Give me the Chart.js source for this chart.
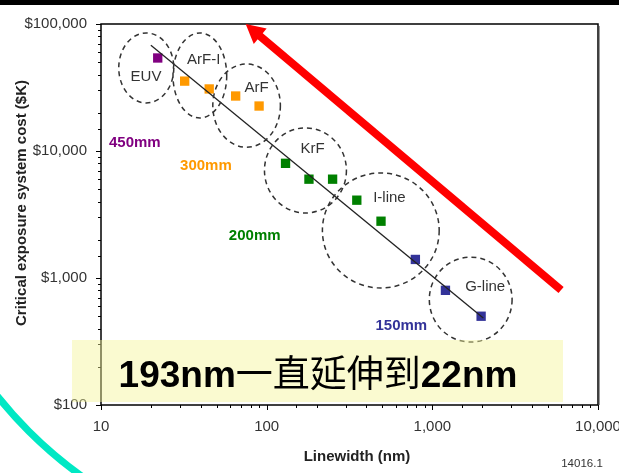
<!DOCTYPE html>
<html>
<head>
<meta charset="utf-8">
<script src="https://cdn.jsdelivr.net/npm/chart.js@4/dist/chart.umd.min.js"></script>
<style>
html,body{margin:0;padding:0;background:#fff;}
#wrap{width:619px;height:473px;position:relative;}
</style>
</head>
<body>
<div id="wrap"><canvas id="c" width="619" height="473"></canvas></div>
<script>
// ---- data ----
const euvX = [22];
const euvY = [54000];
const arfX = [32, 45, 65, 90];
const arfY = [35500, 30800, 27100, 22600];
const krfX = [130, 180, 250, 350, 490];
const krfY = [8000, 6000, 6000, 4100, 2800];
const glineX = [790, 1200, 1970];
const glineY = [1400, 800, 500];
const trendX = [20, 2030];
const trendY = [68000, 485];

const xTickValues = [10, 100, 1000, 10000];
const xTickLabels = ['10', '100', '1,000', '10,000'];
const yTickValues = [100, 1000, 10000, 100000];
const yTickLabels = ['$100', '$1,000', '$10,000', '$100,000'];

// technology groups (dashed ellipses) in data units
const techNames = ['EUV', 'ArF-I', 'ArF', 'KrF', 'I-line', 'G-line'];
const techXMin = [12.8, 27.2, 47.3, 97, 217, 959];
const techXMax = [27.5, 57.4, 121, 303, 1100, 3030];
const techYMin = [23900, 18200, 10700, 3250, 834, 313];
const techYMax = [85000, 85000, 48400, 15200, 6710, 1460];
const techLabelX = [18.7, 41.7, 87, 189, 551, 2085];
const techLabelY = [38300, 52100, 31300, 10400, 4270, 849];

// wafer size labels
const waferNames = ['450mm', '300mm', '200mm', '150mm'];
const waferX = [16, 43, 84.7, 650];
const waferY = [11560, 7620, 2140, 419];

// red trend arrow (data units)
const arrowFromX = 5985, arrowFromY = 805;
const arrowToX = 74.7, arrowToY = 100000;

const FONT = "'Liberation Sans', Arial, sans-serif";
const COL_PURPLE = '#800080', COL_ORANGE = '#ff9900', COL_GREEN = '#008000', COL_BLUE = '#333399';

const toXY = (xs, ys) => xs.map((x, i) => ({x: x, y: ys[i]}));
const isMajor = v => Math.abs(Math.log10(v) - Math.round(Math.log10(v))) < 1e-9;

const deco = {
  id: 'deco',
  beforeDraw(chart) {
    const ctx = chart.ctx;
    ctx.save();
    ctx.fillStyle = '#fff';
    ctx.fillRect(0, 0, chart.width, chart.height);
    ctx.restore();
  },
  afterDraw(chart) {
    const ctx = chart.ctx, a = chart.chartArea;
    const xs = chart.scales.x, ys = chart.scales.y;
    const X = v => xs.getPixelForValue(v), Y = v => ys.getPixelForValue(v);
    ctx.save();

    // tick marks
    ctx.strokeStyle = '#000';
    ctx.lineWidth = 1;
    xs.ticks.forEach(t => {
      const p = Math.round(X(t.value)) + 0.5;
      ctx.beginPath(); ctx.moveTo(p, a.bottom); ctx.lineTo(p, a.bottom + (isMajor(t.value) ? 5 : 3)); ctx.stroke();
    });
    ys.ticks.forEach(t => {
      const p = Math.round(Y(t.value)) + 0.5;
      ctx.beginPath(); ctx.moveTo(a.left, p); ctx.lineTo(a.left - (isMajor(t.value) ? 5 : 3), p); ctx.stroke();
    });

    // plot frame with light shadow
    ctx.strokeStyle = '#999';
    ctx.lineWidth = 1;
    ctx.beginPath(); ctx.moveTo(a.right + 1.5, a.top + 2); ctx.lineTo(a.right + 1.5, a.bottom); ctx.stroke();
    ctx.strokeStyle = '#000';
    ctx.lineWidth = 1.5;
    ctx.strokeRect(a.left, a.top, a.right - a.left, a.bottom - a.top);

    // dashed ellipses + tech labels
    ctx.strokeStyle = '#333';
    ctx.lineWidth = 1.5;
    ctx.setLineDash([5, 4]);
    techNames.forEach((n, i) => {
      const x0 = X(techXMin[i]), x1 = X(techXMax[i]);
      const y0 = Y(techYMax[i]), y1 = Y(techYMin[i]);
      ctx.beginPath();
      ctx.ellipse((x0 + x1) / 2, (y0 + y1) / 2, (x1 - x0) / 2, (y1 - y0) / 2, 0, 0, Math.PI * 2);
      ctx.stroke();
    });
    ctx.setLineDash([]);
    ctx.fillStyle = '#333';
    ctx.font = '15px ' + FONT;
    ctx.textAlign = 'center';
    ctx.textBaseline = 'middle';
    techNames.forEach((n, i) => ctx.fillText(n, X(techLabelX[i]), Y(techLabelY[i])));

    // wafer size labels
    const wcol = [COL_PURPLE, COL_ORANGE, COL_GREEN, COL_BLUE];
    ctx.font = 'bold 15px ' + FONT;
    waferNames.forEach((n, i) => { ctx.fillStyle = wcol[i]; ctx.fillText(n, X(waferX[i]), Y(waferY[i])); });

    // red arrow
    const fx = X(arrowFromX), fy = Y(arrowFromY), tx = X(arrowToX), ty = Y(arrowToY);
    const dx = tx - fx, dy = ty - fy, L = Math.hypot(dx, dy), ux = dx / L, uy = dy / L;
    const headLen = 19, headHalf = 10;
    const bx = tx - ux * headLen, by = ty - uy * headLen;
    ctx.strokeStyle = '#ff0000';
    ctx.lineWidth = 8;
    ctx.lineCap = 'butt';
    ctx.beginPath(); ctx.moveTo(fx, fy); ctx.lineTo(bx + ux * 2, by + uy * 2); ctx.stroke();
    ctx.fillStyle = '#ff0000';
    ctx.beginPath();
    ctx.moveTo(tx, ty);
    ctx.lineTo(bx - uy * headHalf, by + ux * headHalf);
    ctx.lineTo(bx + uy * headHalf, by - ux * headHalf);
    ctx.closePath(); ctx.fill();

    // axis titles
    ctx.fillStyle = '#222';
    ctx.font = 'bold 15px ' + FONT;
    ctx.textAlign = 'center';
    ctx.textBaseline = 'middle';
    ctx.fillText('Linewidth (nm)', 357, 457);
    ctx.save();
    ctx.translate(22, 203);
    ctx.rotate(-Math.PI / 2);
    ctx.fillText('Critical exposure system cost ($K)', 0, 0);
    ctx.restore();

    // yellow banner
    ctx.fillStyle = 'rgba(245,245,150,0.45)';
    ctx.fillRect(72, 340, 491, 62);
    const parts = [['193nm', 'bold 37px ' + FONT], ['一直延伸到', "37px 'Noto Sans CJK SC', sans-serif"], ['22nm', 'bold 37px ' + FONT]];
    let total = 0;
    parts.forEach(p => { ctx.font = p[1]; p.w = ctx.measureText(p[0]).width; total += p.w; });
    let cx = 318 - total / 2;
    ctx.fillStyle = '#000';
    ctx.textAlign = 'left';
    ctx.textBaseline = 'alphabetic';
    parts.forEach(p => { ctx.font = p[1]; ctx.fillText(p[0], cx, 387); cx += p.w; });

    // footnote
    ctx.fillStyle = '#333';
    ctx.font = '11.5px ' + FONT;
    ctx.textAlign = 'center';
    ctx.textBaseline = 'middle';
    ctx.fillText('14016.1', 582, 464);

    // turquoise arc (slide decoration)
    ctx.strokeStyle = '#00e8c4';
    ctx.lineWidth = 7;
    ctx.beginPath();
    ctx.arc(330, 130, 426, Math.PI * 120 / 180, Math.PI * 150 / 180);
    ctx.stroke();

    // black bar at top
    ctx.fillStyle = '#000';
    ctx.fillRect(0, 0, chart.width, 5);
    ctx.restore();
  }
};

const pt = (label, xs, ys, color) => ({
  type: 'scatter', label: label, data: toXY(xs, ys),
  backgroundColor: color, borderWidth: 0, pointStyle: 'rect', pointRadius: 6.6, pointHoverRadius: 6.6
});

new Chart(document.getElementById('c'), {
  type: 'scatter',
  data: {
    datasets: [
      {type: 'line', label: 'trend', data: toXY(trendX, trendY), borderColor: '#222', borderWidth: 1.3,
       pointRadius: 0, fill: false, tension: 0},
      pt('EUV 450mm', euvX, euvY, COL_PURPLE),
      pt('300mm', arfX, arfY, COL_ORANGE),
      pt('200mm', krfX, krfY, COL_GREEN),
      pt('150mm', glineX, glineY, COL_BLUE)
    ]
  },
  options: {
    responsive: false,
    animation: false,
    events: [],
    layout: {padding: {top: 24, right: 21, left: 0, bottom: 0}},
    plugins: {legend: {display: false}, tooltip: {enabled: false}, title: {display: false}},
    scales: {
      x: {
        type: 'logarithmic', position: 'bottom', min: 10, max: 10000,
        grid: {display: false, drawTicks: false, tickLength: 0},
        border: {display: false},
        afterFit: s => { s.height = 68; s.paddingLeft = 0; s.paddingRight = 0; },
        ticks: {
          autoSkip: false, maxRotation: 0, padding: 13, color: '#333',
          font: {family: FONT, size: 15},
          callback: v => { const i = xTickValues.indexOf(v); return i >= 0 ? xTickLabels[i] : ''; }
        }
      },
      y: {
        type: 'logarithmic', position: 'left', min: 100, max: 100000,
        grid: {display: false, drawTicks: false, tickLength: 0},
        border: {display: false},
        afterFit: s => { s.width = 101; s.paddingTop = 0; s.paddingBottom = 0; },
        ticks: {
          autoSkip: false, padding: 14, color: '#333',
          font: {family: FONT, size: 15},
          callback: v => { const i = yTickValues.indexOf(v); return i >= 0 ? yTickLabels[i] : ''; }
        }
      }
    }
  },
  plugins: [deco]
});
</script>
</body>
</html>
